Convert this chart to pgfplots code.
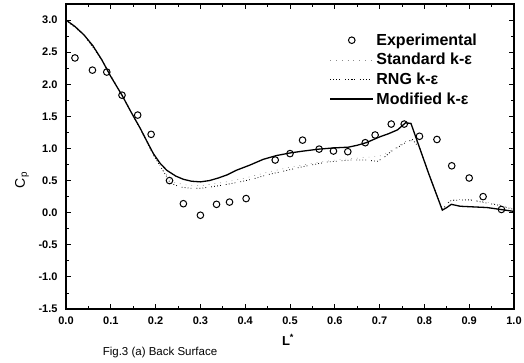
\documentclass[border=0pt]{standalone}
\usepackage{fontspec}
\setmainfont{Liberation Sans}
\usepackage{pgfplots}
\pgfplotsset{compat=1.18}
\begin{document}
\begin{tikzpicture}
\begin{axis}[
  at={(0pt,0pt)}, anchor=south west,
  scale only axis, width=448pt, height=305pt,
  xmin=0, xmax=1, ymin=-1.5, ymax=3.25,
  xtick={0,0.1,...,1.0},
  ytick={-1.5,-1,...,3},
  minor x tick num=1, minor y tick num=1,
  tick align=inside, ticks=both,
  major tick length=5pt, minor tick length=3pt,
  every tick/.style={line width=0.9pt, black},
  axis line style={line width=1.1pt},
  /pgf/number format/assume math mode=true,
  xticklabel={\pgfmathprintnumber[fixed,fixed zerofill,precision=1]{\tick}},
  yticklabel={\pgfmathprintnumber[fixed,fixed zerofill,precision=1]{\tick}},
  tick label style={font=\fontsize{11}{13}\selectfont\bfseries},
  xticklabel style={yshift=-4pt},
  yticklabel style={xshift=-5pt},
  legend style={at={(axis cs:0.588,2.83)}, anchor=north west, draw=none, fill=none,
    font=\fontsize{16}{19}\selectfont\bfseries, inner sep=0pt, row sep=1.5pt,
    nodes={inner sep=2.5pt}},
  legend cell align=left,
  legend image code/.code={\draw[mark repeat=2,mark phase=2,#1] plot coordinates {(0pt,0pt) (21.5pt,0pt) (43pt,0pt)};},
  clip=false,
]
\addplot[only marks, mark=o, mark size=3.3pt, mark options={line width=1pt}, black] coordinates {
(0.020,2.41) (0.059,2.22) (0.091,2.19) (0.125,1.83) (0.160,1.52) (0.190,1.22)
(0.231,0.50) (0.262,0.14) (0.300,-0.04) (0.336,0.13) (0.365,0.165) (0.402,0.22)
(0.467,0.82) (0.500,0.92) (0.528,1.13) (0.565,0.99) (0.597,0.96) (0.629,0.95)
(0.668,1.09) (0.690,1.21) (0.726,1.38) (0.755,1.38) (0.789,1.19) (0.828,1.14)
(0.861,0.73) (0.900,0.54) (0.931,0.25) (0.972,0.05)
};
\addlegendentry{Experimental}
\addplot[black!45, line width=0.6pt, dash pattern=on 0.8pt off 5pt] coordinates {
(0,3.0) (0.04,2.77) (0.08,2.38) (0.125,1.83) (0.166,1.3) (0.195,0.9) (0.218,0.64)
(0.24,0.47) (0.27,0.43) (0.30,0.42) (0.35,0.47) (0.40,0.54) (0.45,0.63) (0.50,0.71)
(0.55,0.77) (0.60,0.82) (0.65,0.85) (0.70,0.88) (0.73,0.98) (0.76,1.12) (0.78,1.12)
(0.79,1.0) (0.81,0.6) (0.84,0.06) (0.86,0.20) (0.9,0.21) (0.96,0.14) (1.0,0.06)
};
\addlegendentry{Standard k-ε}
\addplot[black, line width=0.8pt, dash pattern=on 0.8pt off 2.2pt on 0.8pt off 2.2pt on 0.8pt off 2.2pt on 0.8pt off 5pt] coordinates {
(0,3.0) (0.04,2.77) (0.08,2.38) (0.125,1.83) (0.166,1.3) (0.195,0.9) (0.218,0.64)
(0.233,0.46) (0.255,0.40) (0.277,0.38) (0.30,0.38) (0.322,0.40) (0.35,0.43) (0.389,0.48)
(0.42,0.53) (0.449,0.59) (0.475,0.63) (0.50,0.67) (0.531,0.72) (0.583,0.79) (0.635,0.82)
(0.67,0.82) (0.695,0.80) (0.71,0.86) (0.725,0.95) (0.755,1.08) (0.773,1.14) (0.79,1.0)
(0.81,0.6) (0.84,0.05) (0.855,0.17) (0.86,0.19) (0.9,0.2) (0.963,0.12) (1.0,0.05)
};
\addlegendentry{RNG k-ε}
\addplot[black, line width=1.3pt] coordinates {
(0,3.0) (0.02,2.9) (0.04,2.77) (0.06,2.6) (0.08,2.38) (0.1,2.12) (0.125,1.83)
(0.145,1.57) (0.166,1.31) (0.18,1.12) (0.195,0.92) (0.21,0.77) (0.225,0.66)
(0.245,0.57) (0.262,0.52) (0.28,0.49) (0.30,0.48) (0.32,0.50) (0.34,0.54)
(0.36,0.59) (0.38,0.66) (0.41,0.74) (0.44,0.83) (0.47,0.89) (0.50,0.93)
(0.53,0.96) (0.565,0.99) (0.6,1.01) (0.63,1.02) (0.65,1.05) (0.67,1.09)
(0.70,1.18) (0.72,1.23) (0.74,1.29) (0.758,1.40) (0.77,1.39) (0.81,0.60)
(0.84,0.04) (0.85,0.08) (0.86,0.13) (0.88,0.10) (0.94,0.08) (1.0,0.02)
};
\addlegendentry{Modified k-ε}
\end{axis}
\node[rotate=90, font=\fontsize{14}{16}\selectfont] at (-44pt,129pt) {C\textsubscript{p}};
\node[font=\fontsize{13}{15}\selectfont\bfseries] at (222pt,-31pt) {L\textsuperscript{*}};
\node[font=\fontsize{11.5}{14}\selectfont] at (94pt,-44pt) {Fig.3 (a) Back Surface};
\pgfresetboundingbox
\useasboundingbox (-66pt,-53pt) rectangle (458pt,309pt);
\end{tikzpicture}
\end{document}
